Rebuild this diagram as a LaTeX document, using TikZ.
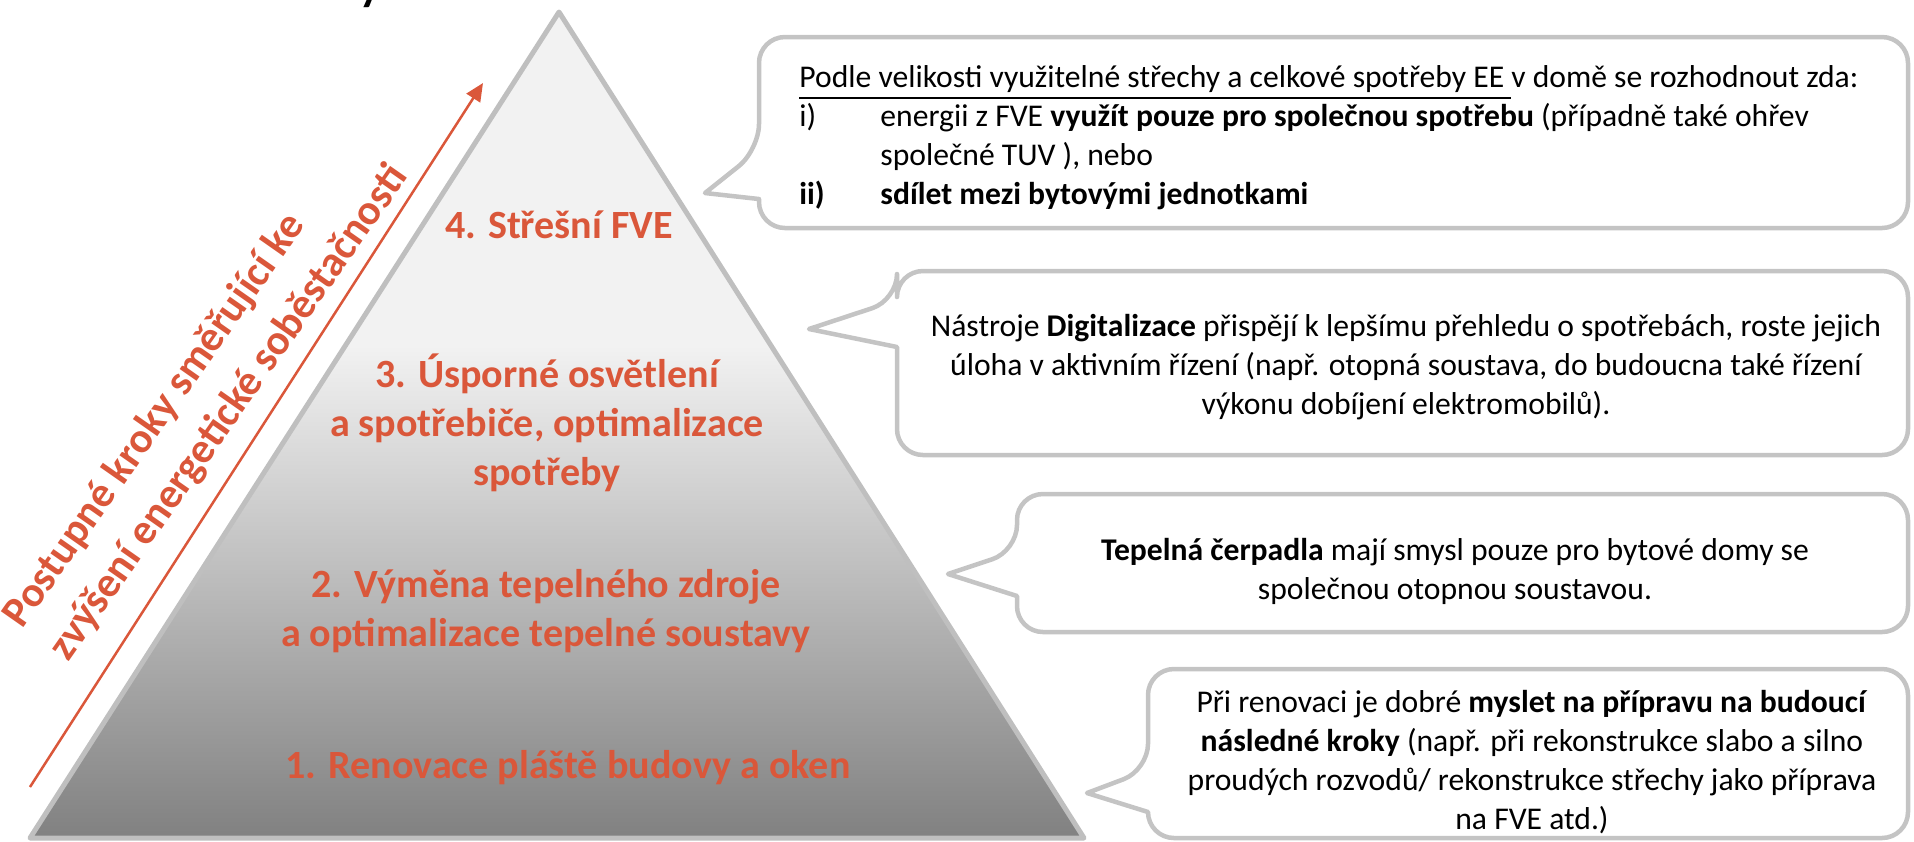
\documentclass[tikz,border=0pt]{standalone}
\usepackage{fontspec}
\setmainfont{Carlito}
\usetikzlibrary{arrows.meta}

\begin{document}
\begin{tikzpicture}[x=0.1mm,y=-0.1mm]
    \definecolor{pyrline}{RGB}{191,191,191}
    \definecolor{pyrtop}{RGB}{242,242,242}
    \definecolor{pyrbot}{RGB}{128,128,128}
    \definecolor{steptext}{RGB}{218,87,58}
    \definecolor{bubline}{RGB}{196,196,196}
    \tikzset{
      steplabel/.style={text=steptext, font=\fontsize{11.4}{14}\selectfont\bfseries, align=center},
      bubble/.style={draw=bubline, line width=0.45mm, fill=white, rounded corners=2.6mm, line join=round},
      bubtext/.style={font=\fontsize{9}{11.1}\selectfont, align=center},
    }

    \useasboundingbox (0,0) rectangle (1914,841);

    % cut title letter at the top edge
    \node[anchor=base, font=\fontsize{13}{15}\selectfont\bfseries] (titley) at (370,0) {y};

    % pyramid
    \coordinate (apex) at (559,12);
    \coordinate (baseL) at (30,838);
    \coordinate (baseR) at (1084,838);
    \begin{scope}
      \clip (apex) -- (baseL) -- (baseR) -- cycle;
      \fill[pyrtop] (0,0) rectangle (1100,346);
      \shade[top color=pyrtop, bottom color=pyrbot] (0,345) rectangle (1100,841);
    \end{scope}
    \draw[pyrline, line width=0.5mm, line join=round] (apex) -- (baseL) -- (baseR) -- cycle;

    \node[steplabel] (step4) at (559,225) {4. Střešní FVE};
    \node[steplabel] (step3) at (547,423) {3. Úsporné osvětlení\\a spotřebiče, optimalizace\\spotřeby};
    \node[steplabel] (step2) at (546,611) {2. Výměna tepelného zdroje\\a optimalizace tepelné soustavy};
    \node[steplabel] (step1) at (568,768) {1. Renovace pláště budovy a oken};

    % rising arrow with its caption
    \coordinate (arrowtail) at (30,787);
    \coordinate (arrowtip) at (483,83);
    \draw[steptext, line width=0.25mm, -{Triangle[length=1.8mm,width=1.6mm]}] (arrowtail) -- (arrowtip);
    \node[text=steptext, font=\fontsize{12.1}{16}\selectfont\bfseries, align=left, rotate=55,
      anchor=west, inner sep=0pt]
      (goal) at (36,640) {Postupné kroky směřující ke\\zvýšení energetické soběstačnosti};

    % callouts
    \draw[bubble] (1300,228) -- (1908,228) -- (1908,37) -- (759,37) -- (759,150)
      [sharp corners] -- (705,193) -- (759,199) [rounded corners=2.6mm] -- (759,228) -- cycle;
    \draw[bubble] (1400,455) -- (1908,455) -- (1908,271) -- (897,271) -- (897,300)
      [sharp corners] -- (809,329) -- (897,347) [rounded corners=2.6mm] -- (897,455) -- cycle;
    \draw[bubble] (1450,632) -- (1908,632) -- (1908,494) -- (1017,494) -- (1017,551)
      [sharp corners] -- (948,574) -- (1017,596) [rounded corners=2.6mm] -- (1017,632) -- cycle;
    \draw[bubble] (1500,838) -- (1908,838) -- (1908,669) -- (1148,669) -- (1148,770)
      [sharp corners] -- (1087,793) -- (1148,812) [rounded corners=2.6mm] -- (1148,838) -- cycle;

    \node[bubtext, anchor=west, align=left] (fvetext) at (787,138)
      {\underline{Podle velikosti využitelné střechy a celkové spotřeby EE }v domě se rozhodnout zda:\\
       \makebox[8.1mm][l]{i)}energii z FVE \textbf{využít pouze pro společnou spotřebu} (případně také ohřev\\
       \hspace*{8.1mm}společné TUV ), nebo\\
       \makebox[8.1mm][l]{\textbf{ii)}}\textbf{sdílet mezi bytovými jednotkami}};
    \node[bubtext] (digitext) at (1406,367)
      {Nástroje \textbf{Digitalizace} přispějí k lepšímu přehledu o spotřebách, roste jejich\\
       úloha v aktivním řízení (např. otopná soustava, do budoucna také řízení\\
       výkonu dobíjení elektromobilů).};
    \node[bubtext] (heattext) at (1455,571)
      {\textbf{Tepelná čerpadla} mají smysl pouze pro bytové domy se\\
       společnou otopnou soustavou.};
    \node[bubtext] (renotext) at (1532,762)
      {Při renovaci je dobré \textbf{myslet na přípravu na budoucí}\\
       \textbf{následné kroky} (např. při rekonstrukce slabo a silno\\
       proudých rozvodů/ rekonstrukce střechy jako příprava\\
       na FVE atd.)};
  \end{tikzpicture}
\end{document}
